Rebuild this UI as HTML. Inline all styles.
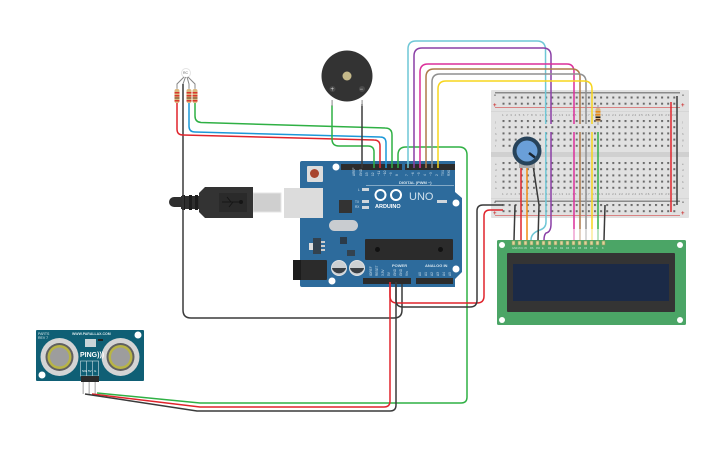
<!DOCTYPE html>
<html><head><meta charset="utf-8"><style>
html,body{margin:0;padding:0;background:#fff}
svg{display:block}
text{font-family:"Liberation Sans",sans-serif}
.w{fill:none;stroke-width:1.5;stroke-linejoin:round}
</style></head><body>
<svg width="725" height="453" viewBox="0 0 725 453" xmlns="http://www.w3.org/2000/svg">
<defs>
<pattern id="r1" x="502.5" y="96.500" width="6.1" height="6.2" patternUnits="userSpaceOnUse"><rect width="2" height="2" fill="#6a6a6a"/></pattern>
<pattern id="r2" x="502.5" y="120" width="6.1" height="6.2" patternUnits="userSpaceOnUse"><rect width="2" height="2" fill="#6a6a6a"/></pattern>
<pattern id="r3" x="502.5" y="162" width="6.1" height="6.2" patternUnits="userSpaceOnUse"><rect width="2" height="2" fill="#6a6a6a"/></pattern>
<pattern id="r4" x="502.5" y="204" width="6.1" height="6.2" patternUnits="userSpaceOnUse"><rect width="2" height="2" fill="#6a6a6a"/></pattern>
</defs>

<!-- Breadboard -->
<rect x="491" y="90" width="198" height="128" rx="1" fill="#e1e1e1"/>
<rect x="491" y="152" width="198" height="5" fill="#d0d0d0"/>
<rect x="491" y="111" width="198" height="1" fill="#d6d6d6"/>
<rect x="491" y="198" width="198" height="1" fill="#d6d6d6"/>
<rect x="495" y="92" width="185" height="1.5" fill="#8a8a8a"/>
<rect x="495" y="107" width="185" height=".8" fill="#d76a6a"/>
<rect x="495" y="200.5" width="185" height="1.5" fill="#8a8a8a"/>
<rect x="495" y="215" width="185" height=".8" fill="#d76a6a"/>
<rect x="502" y="96" width="175" height="9" fill="url(#r1)"/>
<rect x="502" y="120" width="175" height="27" fill="url(#r2)"/>
<rect x="502" y="162" width="175" height="27" fill="url(#r3)"/>
<rect x="502" y="204" width="175" height="9" fill="url(#r4)"/>
<g font-size="3" fill="#888">
<text x="502" y="116" textLength="174">1 2 3 4 5 6 7 8 9 10 11 12 13 14 15 16 17 18 19 20 21 22 23 24 25 26 27 28 29 30</text>
<text x="502" y="195" textLength="174">1 2 3 4 5 6 7 8 9 10 11 12 13 14 15 16 17 18 19 20 21 22 23 24 25 26 27 28 29 30</text>
<text x="495" y="123">j</text><text x="495" y="129">i</text><text x="495" y="135">h</text><text x="495" y="141">g</text><text x="495" y="147">f</text>
<text x="495" y="165">e</text><text x="495" y="171">d</text><text x="495" y="177">c</text><text x="495" y="183">b</text><text x="495" y="189">a</text>
<text x="682" y="123">j</text><text x="682" y="129">i</text><text x="682" y="135">h</text><text x="682" y="141">g</text><text x="682" y="147">f</text>
<text x="682" y="165">e</text><text x="682" y="171">d</text><text x="682" y="177">c</text><text x="682" y="183">b</text><text x="682" y="189">a</text>
</g>
<g font-size="6" fill="#c33" font-weight="bold"><text x="493" y="107">+</text><text x="681" y="107">+</text><text x="493" y="215">+</text><text x="681" y="215">+</text></g>
<g font-size="6" fill="#333" font-weight="bold"><text x="494" y="97">-</text><text x="682" y="97">-</text><text x="494" y="204">-</text><text x="682" y="204">-</text></g>

<!-- LCD -->
<rect x="497" y="240" width="189" height="85" rx="1.5" fill="#4ba566"/>
<rect x="507" y="253" width="168" height="59" rx="1" fill="#343434"/>
<rect x="513" y="264" width="156" height="37" fill="#1b2a47"/>
<g fill="#fff"><circle cx="502" cy="245" r="3"/><circle cx="680" cy="245" r="3"/><circle cx="502" cy="320" r="3"/><circle cx="680" cy="320" r="3"/></g>
<g fill="#e3d59a" stroke="#8a9a60" stroke-width=".6">
<rect x="512" y="241" width="3" height="4"/><rect x="518" y="241" width="3" height="4"/><rect x="524" y="241" width="3" height="4"/><rect x="530" y="241" width="3" height="4"/><rect x="536" y="241" width="3" height="4"/><rect x="542" y="241" width="3" height="4"/><rect x="548" y="241" width="3" height="4"/><rect x="554" y="241" width="3" height="4"/><rect x="560" y="241" width="3" height="4"/><rect x="566" y="241" width="3" height="4"/><rect x="572" y="241" width="3" height="4"/><rect x="578" y="241" width="3" height="4"/><rect x="584" y="241" width="3" height="4"/><rect x="590" y="241" width="3" height="4"/><rect x="596" y="241" width="3" height="4"/><rect x="602" y="241" width="3" height="4"/>
</g>
<g font-size="2.5" fill="#cfe6d5">
<text x="512" y="249">GND</text><text x="518" y="249">VCC</text><text x="524" y="249">V0</text><text x="530" y="249">RS</text><text x="536" y="249">RW</text><text x="542" y="249">E</text><text x="548" y="249">D0</text><text x="554" y="249">D1</text><text x="560" y="249">D2</text><text x="566" y="249">D3</text><text x="572" y="249">D4</text><text x="578" y="249">D5</text><text x="584" y="249">D6</text><text x="590" y="249">D7</text><text x="596" y="249">A</text><text x="602" y="249">K</text>
</g>

<!-- Arduino -->
<path d="M302 161H455V192L462 198V272L455 279V287H302Q300 287 300 285V163Q300 161 302 161Z" fill="#2d6b9c"/>
<rect x="307" y="166" width="16" height="16" rx="1" fill="#dcdcdc"/>
<circle cx="314.5" cy="173.5" r="4.5" fill="#a8452f"/>
<rect x="341" y="164" width="61" height="6" fill="#2c2c2c"/>
<rect x="405" y="164" width="50" height="6" fill="#2c2c2c"/>
<rect x="363" y="278" width="48" height="6" fill="#2c2c2c"/>
<rect x="416" y="278" width="37" height="6" fill="#2c2c2c"/>
<g fill="#fff"><circle cx="336" cy="167" r="3.5"/><circle cx="456" cy="203" r="3.5"/><circle cx="456" cy="269" r="3.5"/><circle cx="332" cy="281" r="3.5"/></g>
<rect x="339" y="200" width="13" height="13" fill="#333"/>
<rect x="329" y="220" width="29" height="11" rx="5.5" fill="#c9ccd0"/>
<rect x="340" y="237" width="7" height="7" fill="#2b3a48"/>
<rect x="313" y="238" width="8" height="16" fill="#33424f"/>
<rect x="309" y="243" width="4" height="7" fill="#ddd"/>
<rect x="321" y="241" width="4" height="2" fill="#ccc"/><rect x="321" y="245" width="4" height="2" fill="#ccc"/><rect x="321" y="249" width="4" height="2" fill="#ccc"/>
<rect x="347" y="250" width="8" height="6" fill="#33424f"/>
<rect x="293" y="260" width="34" height="20" rx="1" fill="#2b2b2b"/>
<rect x="293" y="260" width="8" height="20" fill="#1c1c1c"/>
<circle cx="339" cy="268" r="7.5" fill="#ccd0d3"/><path d="M331.8 268a7.5 7.5 0 0 0 14.4 0z" fill="#3a3f44"/><circle cx="339" cy="268" r="7.5" fill="none" stroke="#dfe2e4"/>
<circle cx="357" cy="268" r="7.5" fill="#ccd0d3"/><path d="M349.8 268a7.5 7.5 0 0 0 14.4 0z" fill="#3a3f44"/><circle cx="357" cy="268" r="7.5" fill="none" stroke="#dfe2e4"/>
<rect x="365" y="239" width="88" height="21" rx="1" fill="#2b2b2b"/>
<circle cx="377.5" cy="249.5" r="2.5" fill="#111"/><circle cx="440.5" cy="249.5" r="2.5" fill="#111"/>
<circle cx="380.5" cy="195" r="5" fill="none" stroke="#fff" stroke-width="2"/>
<circle cx="396" cy="195" r="5" fill="none" stroke="#fff" stroke-width="2"/>
<text x="375" y="208" font-size="5.5" font-weight="bold" fill="#fff">ARDUINO</text>
<text x="409" y="200" font-size="11" fill="#cfe0ec">UNO</text>
<text x="399" y="184" font-size="4" font-weight="bold" fill="#d5e4ee">DIGITAL (PWM ~)</text>
<rect x="366" y="185" width="88" height=".6" fill="#bcd3e2"/>
<g fill="#cfe0ec" font-size="3.2">
<text x="355" y="176" transform="rotate(-90 355 176)">AREF</text><text x="362" y="176" transform="rotate(-90 362 176)">GND</text>
<text x="368" y="176" transform="rotate(-90 368 176)">13</text><text x="374" y="176" transform="rotate(-90 374 176)">12</text><text x="380" y="176" transform="rotate(-90 380 176)">~11</text><text x="386" y="176" transform="rotate(-90 386 176)">~10</text><text x="392" y="176" transform="rotate(-90 392 176)">~9</text><text x="398" y="176" transform="rotate(-90 398 176)">8</text>
<text x="408" y="176" transform="rotate(-90 408 176)">7</text><text x="414" y="176" transform="rotate(-90 414 176)">~6</text><text x="420" y="176" transform="rotate(-90 420 176)">~5</text><text x="426" y="176" transform="rotate(-90 426 176)">4</text><text x="432" y="176" transform="rotate(-90 432 176)">~3</text><text x="438" y="176" transform="rotate(-90 438 176)">2</text><text x="444" y="176" transform="rotate(-90 444 176)">TX1</text><text x="450" y="176" transform="rotate(-90 450 176)">RX0</text>
<text x="372" y="276" transform="rotate(-90 372 276)">IOREF</text><text x="378" y="276" transform="rotate(-90 378 276)">RESET</text><text x="384" y="276" transform="rotate(-90 384 276)">3.3V</text><text x="390" y="276" transform="rotate(-90 390 276)">5V</text><text x="396" y="276" transform="rotate(-90 396 276)">GND</text><text x="402" y="276" transform="rotate(-90 402 276)">GND</text><text x="408" y="276" transform="rotate(-90 408 276)">Vin</text>
<text x="421" y="276" transform="rotate(-90 421 276)">A0</text><text x="427" y="276" transform="rotate(-90 427 276)">A1</text><text x="433" y="276" transform="rotate(-90 433 276)">A2</text><text x="439" y="276" transform="rotate(-90 439 276)">A3</text><text x="445" y="276" transform="rotate(-90 445 276)">A4</text><text x="451" y="276" transform="rotate(-90 451 276)">A5</text>
<text x="358" y="191">L</text><text x="355" y="203">TX</text><text x="355" y="208">RX</text>
</g>
<g fill="#cfd6dc"><rect x="362" y="188" width="7" height="3"/><rect x="362" y="200" width="7" height="3"/><rect x="362" y="206" width="7" height="3"/><rect x="437" y="200" width="10" height="3"/></g>
<g font-size="4" font-weight="bold" fill="#d5e4ee"><text x="392" y="267">POWER</text><text x="425" y="267">ANALOG IN</text></g>

<!-- USB -->
<rect x="284" y="188" width="39" height="30" fill="#dcdcdc"/>
<rect x="253" y="193" width="28" height="19" fill="#cfcfcf" stroke="#e6e6e6"/>
<path d="M181 197H174A5 5 0 0 0 174 207H181Z" fill="#2f2f2f"/>
<rect x="181" y="196" width="18" height="13" fill="#2f2f2f"/>
<rect x="182" y="195" width="3" height="15" fill="#1d1d1d"/><rect x="189" y="195" width="3" height="15" fill="#1d1d1d"/><rect x="195" y="195" width="3" height="15" fill="#1d1d1d"/>
<path d="M199 193L205 187H253V218H205L199 212Z" fill="#333"/>
<rect x="219" y="193" width="28" height="19" fill="#2a2a2a"/>
<path d="M222 202H241M227 197L231 202M229 207L233 202" stroke="#151515" stroke-width="1" fill="none"/><circle cx="241" cy="202" r="2" fill="#151515"/>

<!-- Ping sensor -->
<rect x="36" y="330" width="108" height="51" rx="1" fill="#0f5f75"/>
<circle cx="59.5" cy="357" r="19" fill="#d4d4d4"/><circle cx="59.5" cy="357" r="14" fill="#3a3a3a" opacity=".75"/><circle cx="59.5" cy="357" r="12" fill="#b8b445"/><circle cx="59.5" cy="357" r="9.5" fill="#9d9d9d"/>
<circle cx="120.5" cy="357" r="19" fill="#d4d4d4"/><circle cx="120.5" cy="357" r="14" fill="#3a3a3a" opacity=".75"/><circle cx="120.5" cy="357" r="12" fill="#b8b445"/><circle cx="120.5" cy="357" r="9.5" fill="#9d9d9d"/>
<circle cx="42" cy="375" r="3.5" fill="#fff"/><circle cx="138" cy="335" r="3.5" fill="#fff"/>
<text x="38" y="335" font-size="3.5" fill="#d5e6ea">PARTS</text><text x="38" y="339" font-size="3.5" fill="#d5e6ea">REV 7</text>
<text x="72" y="335" font-size="3.5" font-weight="bold" fill="#d5e6ea">WWW.PARALLAX.COM</text>
<rect x="85" y="339" width="11" height="8" fill="#c9d5d8"/><rect x="98" y="339" width="5" height="2" fill="#222"/>
<text x="80" y="357" font-size="7" font-weight="bold" fill="#fff">PING)))</text>
<rect x="80.5" y="361" width="18" height="15" fill="none" stroke="#cfe0e4" stroke-width=".6"/>
<path d="M86.5 361V376M92.5 361V376" stroke="#cfe0e4" stroke-width=".6"/>
<g font-size="3" fill="#fff"><text x="82" y="372">SIG</text><text x="88" y="372">5V</text><text x="94" y="372">G</text></g>
<rect x="81" y="376" width="18" height="6" fill="#2a2a2a"/>
<rect x="82.5" y="382" width="1.4" height="12" fill="#bbb"/><rect x="88.5" y="382" width="1.4" height="12" fill="#bbb"/><rect x="94.5" y="382" width="1.4" height="12" fill="#bbb"/>

<!-- RGB LED -->
<circle cx="186" cy="73" r="4.5" fill="#fff" stroke="#e3e3e3"/>
<text x="183" y="74" font-size="3.5" fill="#666">RC</text>
<path d="M184 77L177 84V88M185.500 77L183 84V88M187 77L189 84V88M188 77L195 84V88" fill="none" stroke="#888" stroke-width="1"/>
<!-- Wires -->
<g class="w">
<path stroke="#3a3a3a" d="M183 84V310Q183 318 191 318H394Q402 318 402 310V284"/>
<path stroke="#2fb044" d="M195 103V116Q195 122 201 122.500L385 128Q392 128 392 135V168"/>
<path stroke="#1b98d8" d="M189 103V126Q189 132 195 132L380 137Q386 137 386 143V168"/>
<path stroke="#e0242c" d="M177 103V129Q177 135 183 135L374 140Q380 140 380 146V168"/>
<path stroke="#2fb044" d="M332 105V139Q332 146 339 146H368Q374 146 374 152V168"/>
<path stroke="#3a3a3a" d="M362 104V168"/>
<path stroke="#2fb044" d="M398 168V155Q398 147 406 147H459Q467 147 467 155V397Q467 403 461 403H200L97 393"/>
<path stroke="#e0242c" d="M390 282V401Q390 407 384 407H200L92 394"/>
<path stroke="#3a3a3a" d="M396 282V405Q396 411 390 411H197L85 394"/>
<path stroke="#e0242c" d="M390 282V296Q390 303 397 303H477Q484 303 484 296V216Q484 210 490 210H503"/>
<path stroke="#3a3a3a" d="M396 282V300Q396 307 403 307H470Q477 307 477 300V211Q477 205 483 205H503"/>
<path stroke="#6fc7d6" d="M408 168V49Q408 41 416 41H537Q545 41 545.500 49L546 222Q546 228 540 230Q531 233 531 240"/>
<path stroke="#8a3fa6" d="M414 168V56Q414 48 422 48H543Q551 48 551 56V224Q551 232 546 233Q544 235 544 240"/>
<path stroke="#dc2f9a" d="M420 168V72Q420 64 428 64H567Q574 64 574 72V240"/>
<path stroke="#ad7a4a" d="M426 168V77Q426 69 434 69H572Q580 69 580 77V240"/>
<path stroke="#8f8f8f" d="M432 168V82Q432 74 440 74H578Q586 74 586 82V240"/>
<path stroke="#f7d51d" d="M438 168V89Q438 81 446 81H584Q592 81 592 89V240"/>
<path stroke="#2fb044" d="M598 132V240"/>
<path stroke="#3a3a3a" d="M515 205L514 240"/>
<path stroke="#e0242c" d="M521 168V240"/>
<path stroke="#f08a14" d="M527 168V240"/>
<path stroke="#3a3a3a" d="M533 165L539 205L538 240"/>
<path stroke="#3a3a3a" d="M605 205L604 240"/>
<path stroke="#e0242c" d="M671 102V212"/>
<path stroke="#3a3a3a" d="M677 96V205"/>
</g>
<!-- faded areas of wires -->
<rect x="543" y="124" width="52" height="8" fill="#e1e1e1"/>
<rect x="543" y="126" width="52" height="3" fill="url(#r2)"/>
<rect x="570" y="229" width="31" height="11" fill="#fff" opacity=".55"/>

<!-- Resistors -->
<g>
<path d="M177 88V103M189 88V103M195 88V103M598 105V125" stroke="#999" stroke-width="1"/>
<g fill="#d9b77e">
<rect x="174.500" y="89" width="5" height="14" rx="2"/><rect x="186.500" y="89" width="5" height="14" rx="2"/><rect x="192.500" y="89" width="5" height="14" rx="2"/><rect x="595.500" y="108" width="5" height="14" rx="2"/>
</g>
<g fill="#d8372a">
<rect x="174.500" y="92" width="5" height="1.500"/><rect x="174.500" y="95" width="5" height="1.500"/><rect x="174.500" y="100" width="5" height="1.500"/>
<rect x="186.500" y="92" width="5" height="1.500"/><rect x="186.500" y="95" width="5" height="1.500"/><rect x="186.500" y="100" width="5" height="1.500"/>
<rect x="192.500" y="92" width="5" height="1.500"/><rect x="192.500" y="95" width="5" height="1.500"/><rect x="192.500" y="100" width="5" height="1.500"/>
</g>
<g fill="#6b3a1c"><rect x="174.500" y="97.500" width="5" height="1"/><rect x="186.500" y="97.500" width="5" height="1"/><rect x="192.500" y="97.500" width="5" height="1"/></g>
<rect x="595.500" y="111" width="5" height="1.500" fill="#e88a1c"/><rect x="595.500" y="114" width="5" height="1.500" fill="#e88a1c"/><rect x="595.500" y="116.500" width="5" height="1.500" fill="#222"/><rect x="595.500" y="119" width="5" height="1.500" fill="#6b3a1c"/>
</g>

<!-- Buzzer -->
<circle cx="347" cy="76" r="25.500" fill="#333"/>
<circle cx="347" cy="76" r="4.500" fill="#c5b98a"/>
<circle cx="332.500" cy="89" r="3" fill="#4a4a4a"/><circle cx="362" cy="89" r="3" fill="#4a4a4a"/>
<text x="330.500" y="91" font-size="6" fill="#ddd">+</text><text x="359.500" y="91" font-size="6" fill="#ddd">−</text>
<rect x="331.500" y="100" width="1.200" height="6" fill="#999"/><rect x="361.500" y="100" width="1.200" height="6" fill="#999"/>

<!-- Potentiometer -->
<rect x="519" y="162" width="16" height="6" fill="#aaa"/>
<circle cx="527" cy="151" r="14.500" fill="#27435a"/>
<circle cx="527" cy="151" r="10.500" fill="#6a9fd8"/>
<path d="M529 153L535 157.500" stroke="#1a2530" stroke-width="2.500"/>
</svg>
</body></html>
